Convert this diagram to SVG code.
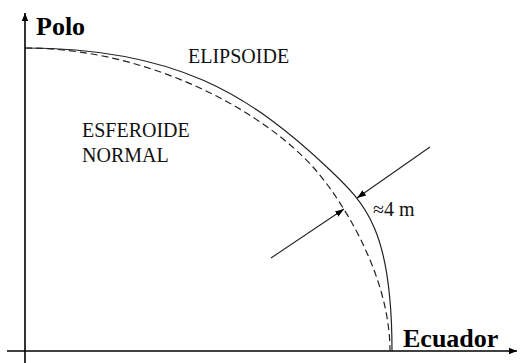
<svg xmlns="http://www.w3.org/2000/svg" width="520" height="363" viewBox="0 0 520 363">
<defs>
<style>
.axis{stroke:#000;stroke-width:1.6;fill:none}
.curve{stroke:#222;stroke-width:1.2;fill:none}
.dash{stroke:#222;stroke-width:1.2;fill:none;stroke-dasharray:7 4}
.dim{stroke:#222;stroke-width:1.1;fill:none}
.lbl{font-family:"Liberation Serif","Times New Roman",serif;font-size:20px;fill:#111}
.ax{font-family:"Liberation Serif","Times New Roman",serif;font-size:26px;font-weight:bold;fill:#000}
</style>
<marker id="ah" viewBox="0 0 10 10" refX="10" refY="5" markerWidth="8" markerHeight="8" markerUnits="userSpaceOnUse" orient="auto">
<path d="M0,1 L10,5 L0,9 Z" fill="#000"/>
</marker>
<marker id="ah2" viewBox="0 0 10 10" refX="10" refY="5" markerWidth="9" markerHeight="9" markerUnits="userSpaceOnUse" orient="auto">
<path d="M0,1.5 L10,5 L0,8.5 Z" fill="#000"/>
</marker>
</defs>
<g id="connectors">
<line class="axis" x1="25" y1="363" x2="25" y2="13" marker-end="url(#ah)"/>
<line class="axis" x1="7" y1="351" x2="517" y2="351" marker-end="url(#ah)"/>
<path id="ellipsoid" class="curve" d="M25,48 C175,48 250.25,94.2 330,170 C366.25,204.45 392,231 392,351"/>
<path id="spheroid" class="dash" d="M25,48 C145,48 259.4,107.8 313,167 C336.5,192.9 390,271 390,351"/>
<line class="dim" x1="430" y1="147" x2="357" y2="198" marker-end="url(#ah2)"/>
<line class="dim" x1="271" y1="258" x2="344" y2="209" marker-end="url(#ah2)"/>
</g>
<g id="polo"><text class="ax" x="36" y="35">Polo</text></g>
<g id="ecuador"><text class="ax" x="403" y="347">Ecuador</text></g>
<g id="elipsoide"><text class="lbl" x="188" y="63">ELIPSOIDE</text></g>
<g id="esferoide"><text class="lbl" x="82" y="137">ESFEROIDE</text><text class="lbl" x="82" y="162">NORMAL</text></g>
<g id="dimension"><text class="lbl" x="373" y="216">≈4 m</text></g>
</svg>
